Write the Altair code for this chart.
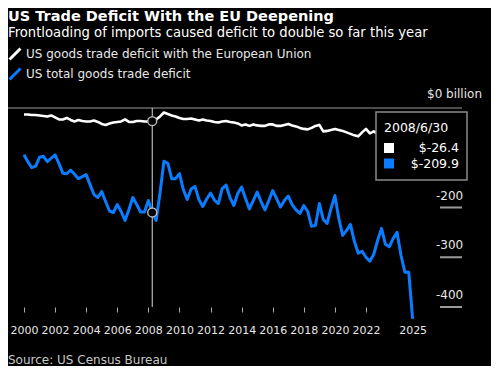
import altair as alt
import pandas as pd

# ---------------- data (quarterly, 2000 Q1 .. 2025 Q1, $ billion) ----------------
start_year = 2000
eu_deficit = [
    -13, -13, -14, -14, -15, -16, -17, -15, -19, -23,
    -23, -20, -24, -27, -24, -26, -27, -27, -25, -28,
    -32, -34, -31, -29, -28, -27, -23, -28, -28, -26,
    -26, -27, -27, -26.4, -23, -17, -9, -12, -15, -17,
    -20, -22, -22, -21, -23, -25, -23, -25, -26, -28,
    -29, -27, -26, -28, -29, -31, -35, -33, -36, -33,
    -35, -36, -36, -33, -33, -36, -36, -34, -32, -35,
    -37, -40, -42, -43, -40, -36, -34, -47, -46, -44,
    -42, -44, -46, -49, -52, -55, -57, -49, -42, -51,
    -47, -52, -50, -55, -54, -52, -56, -58, -55, -60,
    -66,
]
total_deficit = [
    -94, -108, -120, -117, -99, -97, -108, -101, -94, -112,
    -131, -132, -125, -133, -142, -138, -134, -154, -174, -180,
    -168, -188, -207, -210, -194, -208, -226, -204, -180, -194,
    -209, -209, -186, -209.9, -226, -171, -107, -111, -142, -142,
    -132, -164, -184, -163, -158, -184, -198, -183, -171, -185,
    -192, -162, -155, -180, -196, -172, -159, -182, -203, -186,
    -169, -188, -205, -186, -166, -182, -199, -186, -177, -194,
    -205, -212, -196, -208, -238, -236, -192, -224, -232, -202,
    -176, -222, -256, -246, -234, -268, -292, -288, -300, -308,
    -294, -266, -242, -274, -279, -262, -250, -296, -330, -330,
    -424,
]
series_names = ["US goods trade deficit with the European Union", "US total goods trade deficit"]
series_colors = ["#ffffff", "#0a7cff"]
tick_years = [2000, 2002, 2004, 2006, 2008, 2010, 2012, 2014, 2016, 2018, 2020, 2022, 2025]
y_levels = [0, -200, -300, -400]
y_labels = ["$0 billion", "-200", "-300", "-400"]
highlight_index = 33
highlight_date = "2008/6/30"
title_text = "US Trade Deficit With the EU Deepening"
subtitle_text = "Frontloading of imports caused deficit to double so far this year"
source_text = "Source: US Census Bureau"

FONT = "DejaVu Sans"

# ---------------- tables ----------------
n = len(total_deficit)
x_pos = [start_year + i / 4 for i in range(n)]
rows = []
for i in range(n):
    rows.append({"x": x_pos[i], "value": eu_deficit[i], "series": series_names[0]})
    rows.append({"x": x_pos[i], "value": total_deficit[i], "series": series_names[1]})
df = pd.DataFrame(rows)
df_hi = df[df["x"] == x_pos[highlight_index]].copy()
df_levels = pd.DataFrame({"level": y_levels, "label": y_labels})
df_vline = pd.DataFrame({"x": [x_pos[highlight_index]], "y0": [y_levels[0]], "y1": [y_levels[-1]]})
one = pd.DataFrame({"k": [0]})

# ---------------- scales / axes ----------------
W, H = 454, 199
xscale = alt.Scale(domain=[1998.971, 2028.176], nice=False, zero=False)
yscale = alt.Scale(domain=[-400, 0], nice=False, zero=False)
xaxis = alt.Axis(
    values=tick_years, format="d", title=None, domain=False, grid=False,
    tickSize=5, tickColor="#aaaaaa", tickWidth=1,
    tickOpacity={"condition": {"test": "datum.value == 2025", "value": 0}, "value": 1},
    labelColor="#e6e6e6", labelFontSize=11, labelPadding=12, labelFont=FONT,
    labelFlush=False, labelOverlap=False,
)
X = alt.X("x:Q", scale=xscale, axis=xaxis)

color = alt.Color(
    "series:N",
    scale=alt.Scale(domain=series_names, range=series_colors),
    legend=alt.Legend(
        orient="none", legendX=0, legendY=-61, title=None,
        symbolType="M-1,1L1,-1", symbolSize=120, symbolStrokeWidth=3,
        labelColor="#e8e8e8", labelFontSize=12, labelFont=FONT, labelOffset=4,
        rowPadding=-4, padding=0, labelLimit=500,
    ),
)

zero_rule = alt.Chart(df_levels).transform_filter("datum.level == 0").mark_rule(
    color="#9a9a9a", strokeWidth=1.2
).encode(y=alt.Y("level:Q", scale=yscale, axis=None), x=alt.value(0), x2=alt.value(W))

grid_rules = alt.Chart(df_levels).transform_filter("datum.level < 0").mark_rule(
    color="#9a9a9a", strokeWidth=2
).encode(y=alt.Y("level:Q", scale=yscale, axis=None), x=alt.value(W - 22), x2=alt.value(W))

zero_label = alt.Chart(df_levels).transform_filter("datum.level == 0").mark_text(
    align="left", baseline="middle", dy=-14, fontSize=12, font=FONT, color="#e6e6e6"
).encode(y=alt.Y("level:Q", scale=yscale, axis=None), x=alt.value(W - 35), text="label:N")

num_labels = alt.Chart(df_levels).transform_filter("datum.level < 0").mark_text(
    align="left", baseline="middle", dy=-12, fontSize=12, font=FONT, color="#e6e6e6"
).encode(y=alt.Y("level:Q", scale=yscale, axis=None), x=alt.value(W - 26), text="label:N")

vline = alt.Chart(df_vline).mark_rule(color="#d8d8d8", strokeWidth=1).encode(
    x=X, y=alt.Y("y0:Q", scale=yscale, axis=None), y2="y1:Q"
)

line_eu = alt.Chart(df).transform_filter(
    alt.datum.series == series_names[0]
).mark_line(strokeWidth=2.6, strokeJoin="round").encode(
    x=X, y=alt.Y("value:Q", scale=yscale, axis=None), color=color
)
line_total = alt.Chart(df).transform_filter(
    alt.datum.series == series_names[1]
).mark_line(strokeWidth=3, strokeJoin="round").encode(
    x=X, y=alt.Y("value:Q", scale=yscale, axis=None), color=color
)

circles = alt.Chart(df_hi).mark_point(
    shape="circle", filled=True, fill="#000000", stroke="#b4b4b4", strokeWidth=1.5, size=80, opacity=1
).encode(x=X, y=alt.Y("value:Q", scale=yscale, axis=None))

# tooltip box
box = alt.Chart(one).mark_rect(fill="#000000", stroke="#8a8a8a", strokeWidth=1.5).encode(
    x=alt.value(368), x2=alt.value(459), y=alt.value(4), y2=alt.value(72)
)
box_date = alt.Chart(one).mark_text(
    align="left", baseline="middle", fontSize=12.5, font=FONT, color="#ffffff", text=highlight_date
).encode(x=alt.value(376), y=alt.value(20))

tip_layers = []
tip_values = [eu_deficit[highlight_index], total_deficit[highlight_index]]
for i, (nm, col, v) in enumerate(zip(series_names, series_colors, tip_values)):
    tip_layers.append(
        alt.Chart(one).mark_square(size=100, color=col, opacity=1).encode(
            x=alt.value(381), y=alt.value(40 + 15.5 * i)
        )
    )
    tip_layers.append(
        alt.Chart(one).mark_text(
            align="right", baseline="middle", fontSize=12.5, font=FONT, color="#ffffff", text=f"${v}"
        ).encode(x=alt.value(451), y=alt.value(40 + 15.5 * i))
    )

source = alt.Chart(one).mark_text(
    align="left", baseline="middle", fontSize=12, font=FONT, color="#c8c8c8", text=source_text
).encode(x=alt.value(0), y=alt.value(252))

chart = alt.layer(
    zero_rule, grid_rules, zero_label, num_labels, vline, line_eu, line_total, circles,
    box, box_date, *tip_layers, source
).properties(
    width=W, height=H,
    autosize=alt.AutoSizeParams(type="none"),
    padding={"left": 0, "top": 100, "right": 29, "bottom": 59},
    title=alt.TitleParams(
        text=title_text, subtitle=subtitle_text, anchor="start", frame="group",
        font=FONT, fontSize=14.5, fontWeight="bold", color="#ffffff",
        subtitleFont=FONT, subtitleFontSize=13.2, subtitleColor="#ffffff",
        subtitlePadding=2, offset=7,
    ),
).configure(background="#000000").configure_view(stroke=None)

chart.save("out.html", embed_options={"renderer": "svg", "actions": False})
